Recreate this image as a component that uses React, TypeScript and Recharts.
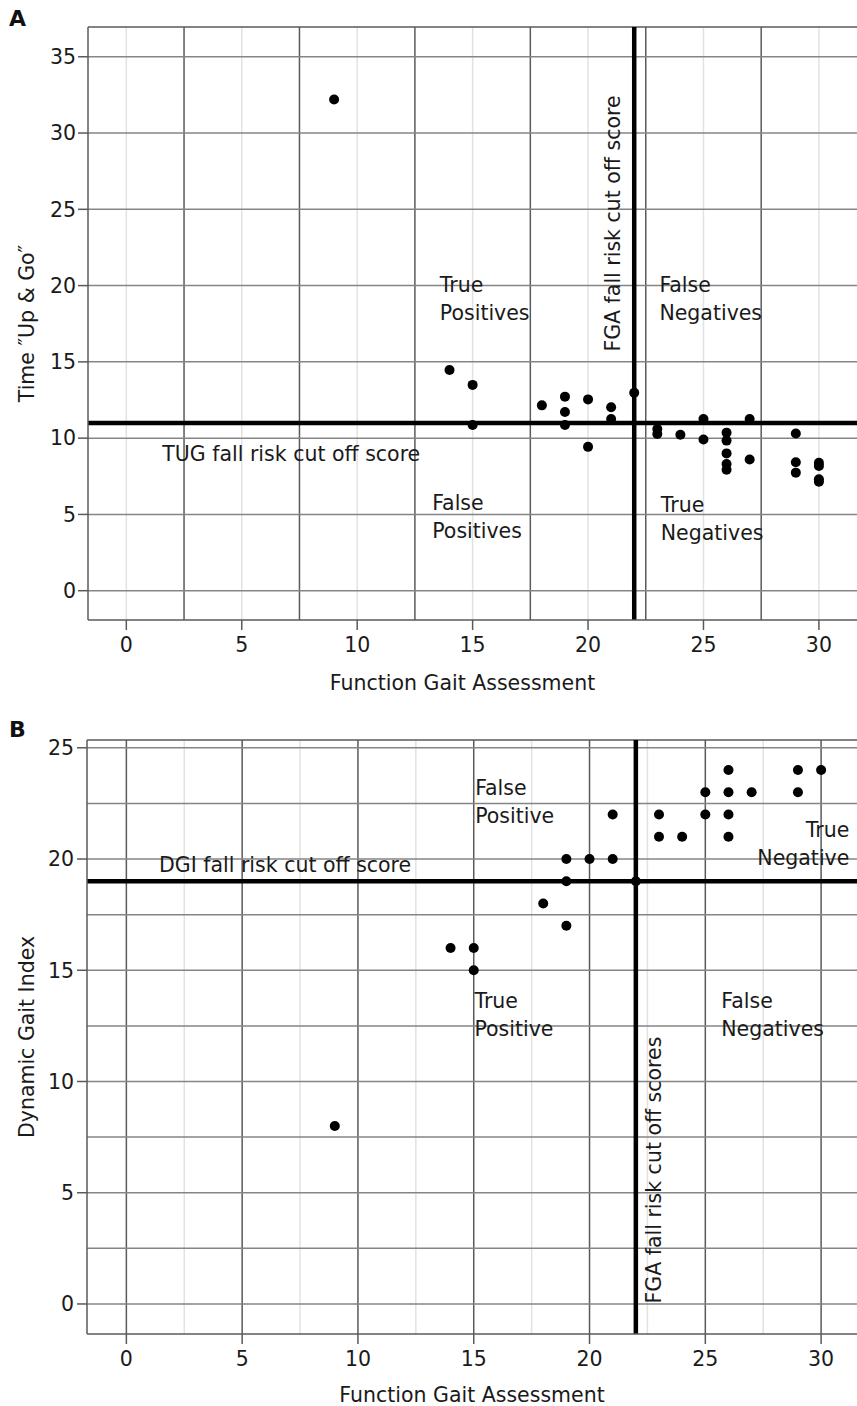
import React from 'react';
import {
  ScatterChart,
  Scatter,
  XAxis,
  YAxis,
  ReferenceLine,
  ReferenceDot,
} from 'recharts';

// Panel A: FGA vs Timed Up & Go
const fgaA = [9, 14, 15, 15, 18, 19, 19, 19, 20, 20, 21, 21, 22, 23, 23, 24, 25, 25, 26, 26, 26, 26, 26, 27, 27, 29, 29, 29, 30, 30, 30, 30];
const tugA = [32.2, 14.47, 13.49, 10.86, 12.15, 12.72, 11.71, 10.86, 12.54, 9.43, 12.02, 11.25, 12.98, 10.6, 10.27, 10.22, 11.25, 9.91, 10.36, 9.84, 9.0, 8.3, 7.93, 11.25, 8.6, 10.3, 8.42, 7.74, 8.38, 8.18, 7.3, 7.15];

// Panel B: FGA vs Dynamic Gait Index
const fgaB = [9, 14, 15, 15, 18, 19, 19, 19, 20, 21, 21, 22, 23, 23, 24, 25, 25, 26, 26, 26, 26, 27, 29, 29, 30];
const dgiB = [8, 16, 16, 15, 18, 20, 19, 17, 20, 22, 20, 19, 22, 21, 21, 23, 22, 24, 23, 22, 21, 23, 24, 23, 24];

const fgaCutoff = 22;
const tugCutoff = 11;
const dgiCutoff = 19;

const xTicks = [0, 5, 10, 15, 20, 25, 30];
const halfTicksX = [2.5, 7.5, 12.5, 17.5, 22.5, 27.5];
const yTicksA = [0, 5, 10, 15, 20, 25, 30, 35];
const yTicksB = [0, 5, 10, 15, 20, 25];
const yGridB = [0, 2.5, 5, 7.5, 10, 12.5, 15, 17.5, 20, 22.5, 25];

const xDomainA = [-1.66, 31.65];
const yDomainA = [-1.92, 36.95];
const xDomainB = [-1.7, 31.55];
const yDomainB = [-1.35, 25.35];

const pointsA = fgaA.map((x, i) => ({ x, y: tugA[i] }));
const pointsB = fgaB.map((x, i) => ({ x, y: dgiB[i] }));

// quadrant / cut-off annotations (data coordinates)
const notesA = [
  { x: 13.58, y: 20.04, lines: ['True', 'Positives'] },
  { x: 23.09, y: 20.04, lines: ['False', 'Negatives'] },
  { x: 13.25, y: 5.75, lines: ['False', 'Positives'] },
  { x: 23.15, y: 5.65, lines: ['True', 'Negatives'] },
  { x: 1.56, y: 8.96, lines: ['TUG fall risk cut off score'] },
];
const rotatedA = { x: 21.06, y: 24.07, text: 'FGA fall risk cut off score' };

const notesB = [
  { x: 15.06, y: 23.22, lines: ['False', 'Positive'] },
  { x: 31.22, y: 21.3, lines: ['True', 'Negative'], end: true },
  { x: 1.41, y: 19.75, lines: ['DGI fall risk cut off score'] },
  { x: 15.03, y: 13.62, lines: ['True', 'Positive'] },
  { x: 25.69, y: 13.62, lines: ['False', 'Negatives'] },
];
const rotatedB = { x: 22.77, y: 6.02, text: 'FGA fall risk cut off scores' };

const FONT = 'DejaVu Sans';
const TEXT = '#1a1a1a';
const DARK = '#5a5a5a';
const MID = '#858585';
const LIGHT = '#e2e2e2';

const dot = (p: any) => <circle cx={p.cx} cy={p.cy} r={5} fill="#000" />;

const noteShape = (lines: string[], end?: boolean) => (p: any) => (
  <text
    x={p.cx}
    y={p.cy}
    fontFamily={FONT}
    fontSize={20.5}
    fill={TEXT}
    textAnchor={end ? 'end' : 'start'}
  >
    {lines.map((l, i) => (
      <tspan key={i} x={p.cx} dy={i === 0 ? '0.36em' : 28}>
        {l}
      </tspan>
    ))}
  </text>
);

const rotatedShape = (text: string) => (p: any) => (
  <text
    x={p.cx}
    y={p.cy}
    dy="0.36em"
    fontFamily={FONT}
    fontSize={20.5}
    fill={TEXT}
    textAnchor="middle"
    transform={`rotate(-90, ${p.cx}, ${p.cy})`}
  >
    {text}
  </text>
);

const tickStyle = { fontSize: 20.5, fill: TEXT, fontFamily: FONT };

function PanelA() {
  return (
    <ScatterChart width={857} height={700} margin={{ top: 27, right: 0, bottom: 0, left: 0 }} style={{ fontFamily: FONT }}>
      <XAxis
        type="number"
        dataKey="x"
        domain={xDomainA}
        allowDataOverflow
        ticks={xTicks}
        height={80}
        tickSize={10}
        tickMargin={7}
        tick={tickStyle}
        axisLine={{ stroke: DARK, strokeWidth: 1.5 }}
        tickLine={{ stroke: DARK, strokeWidth: 1.5 }}
        label={{ value: 'Function Gait Assessment', position: 'insideBottom', offset: 10, dx: -10, fontSize: 20.5, fill: TEXT, fontFamily: FONT }}
      />
      <YAxis
        type="number"
        dataKey="y"
        domain={yDomainA}
        allowDataOverflow
        ticks={yTicksA}
        width={88}
        tickSize={10}
        tickMargin={2}
        tick={tickStyle}
        axisLine={{ stroke: DARK, strokeWidth: 1.5 }}
        tickLine={{ stroke: DARK, strokeWidth: 1.5 }}
        label={{ value: 'Time \u2033Up & Go\u2033', angle: -90, position: 'insideLeft', offset: 27, fontSize: 20.5, fill: TEXT, fontFamily: FONT, style: { textAnchor: 'middle' } }}
      />
      {xTicks.map((v) => (
        <ReferenceLine key={'lx' + v} x={v} stroke={LIGHT} strokeWidth={1.5} />
      ))}
      {halfTicksX.map((v) => (
        <ReferenceLine key={'dx' + v} x={v} stroke={DARK} strokeWidth={1.5} />
      ))}
      {yTicksA.map((v) => (
        <ReferenceLine key={'hy' + v} y={v} stroke={MID} strokeWidth={1.5} />
      ))}
      <ReferenceLine y={yDomainA[1]} stroke={DARK} strokeWidth={1.5} ifOverflow="visible" />
      <ReferenceLine x={fgaCutoff} stroke="#000" strokeWidth={4.5} />
      <ReferenceLine y={tugCutoff} stroke="#000" strokeWidth={4.5} />
      {notesA.map((n, i) => (
        <ReferenceDot key={'na' + i} x={n.x} y={n.y} r={0} shape={noteShape(n.lines)} />
      ))}
      <ReferenceDot x={rotatedA.x} y={rotatedA.y} r={0} shape={rotatedShape(rotatedA.text)} />
      <Scatter data={pointsA} shape={dot} isAnimationActive={false} />
    </ScatterChart>
  );
}

function PanelB() {
  return (
    <ScatterChart width={857} height={706} margin={{ top: 40, right: 0, bottom: 0, left: 0 }} style={{ fontFamily: FONT }}>
      <XAxis
        type="number"
        dataKey="x"
        domain={xDomainB}
        allowDataOverflow
        ticks={xTicks}
        height={72}
        tickSize={10}
        tickMargin={7}
        tick={tickStyle}
        axisLine={{ stroke: DARK, strokeWidth: 1.5 }}
        tickLine={{ stroke: DARK, strokeWidth: 1.5 }}
        label={{ value: 'Function Gait Assessment', position: 'insideBottom', offset: 4, fontSize: 20.5, fill: TEXT, fontFamily: FONT }}
      />
      <YAxis
        type="number"
        dataKey="y"
        domain={yDomainB}
        allowDataOverflow
        ticks={yTicksB}
        width={87}
        tickSize={10}
        tickMargin={3}
        tick={tickStyle}
        axisLine={{ stroke: DARK, strokeWidth: 1.5 }}
        tickLine={{ stroke: DARK, strokeWidth: 1.5 }}
        label={{ value: 'Dynamic Gait Index', angle: -90, position: 'insideLeft', offset: 27, fontSize: 20.5, fill: TEXT, fontFamily: FONT, style: { textAnchor: 'middle' } }}
      />
      {halfTicksX.map((v) => (
        <ReferenceLine key={'lx' + v} x={v} stroke={LIGHT} strokeWidth={1.5} />
      ))}
      {xTicks.map((v) => (
        <ReferenceLine key={'dx' + v} x={v} stroke={DARK} strokeWidth={1.5} />
      ))}
      {yGridB.map((v) => (
        <ReferenceLine key={'hy' + v} y={v} stroke={MID} strokeWidth={1.5} />
      ))}
      <ReferenceLine y={yDomainB[1]} stroke={DARK} strokeWidth={1.5} ifOverflow="visible" />
      <ReferenceLine x={fgaCutoff} stroke="#000" strokeWidth={4.5} />
      <ReferenceLine y={dgiCutoff} stroke="#000" strokeWidth={4.5} />
      {notesB.map((n, i) => (
        <ReferenceDot key={'nb' + i} x={n.x} y={n.y} r={0} shape={noteShape(n.lines, n.end)} />
      ))}
      <ReferenceDot x={rotatedB.x} y={rotatedB.y} r={0} shape={rotatedShape(rotatedB.text)} />
      <Scatter data={pointsB} shape={dot} isAnimationActive={false} />
    </ScatterChart>
  );
}

const panelLabel: React.CSSProperties = {
  position: 'absolute',
  left: 9,
  fontFamily: FONT,
  fontWeight: 'bold',
  fontSize: 22,
  color: '#111',
  lineHeight: '22px',
};

export default function App() {
  return (
    <div style={{ position: 'absolute', left: 0, top: 0, width: 857, height: 1406, background: '#fff' }}>
      <div style={{ position: 'absolute', left: 0, top: 0 }}>
        <PanelA />
      </div>
      <div style={{ position: 'absolute', left: 0, top: 700 }}>
        <PanelB />
      </div>
      <div style={{ ...panelLabel, top: 8 }}>A</div>
      <div style={{ ...panelLabel, top: 719 }}>B</div>
    </div>
  );
}
